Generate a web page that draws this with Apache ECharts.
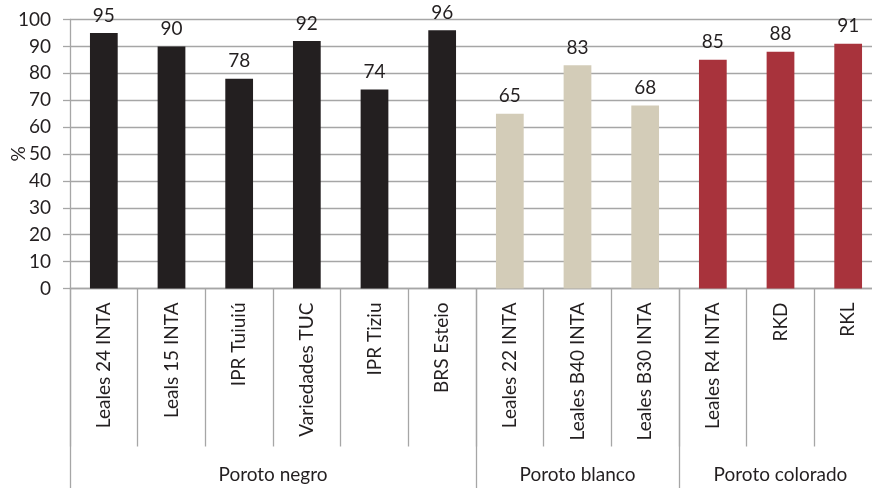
<!DOCTYPE html>
<html>
<head>
<meta charset="utf-8">
<script src="https://cdn.jsdelivr.net/npm/echarts@6/dist/echarts.min.js"></script>
<style>html,body{margin:0;padding:0;background:#fff;}#c{width:872px;height:488px;}</style>
</head>
<body>
<div id="c"></div>
<script>
const categories = ['Leales 24 INTA','Leals 15 INTA','IPR Tuiuiú','Variedades TUC','IPR Tiziu','BRS Esteio','Leales 22 INTA','Leales B40 INTA','Leales B30 INTA','Leales R4 INTA','RKD','RKL'];
const values = [95, 90, 78, 92, 74, 96, 65, 83, 68, 85, 88, 91];
const groupNames = ['Poroto negro', 'Poroto blanco', 'Poroto colorado'];
const groupSizes = [6, 3, 3];
const groupColors = ['#231f20', '#d3ccb8', '#a8333c'];
const yTicks = [0, 10, 20, 30, 40, 50, 60, 70, 80, 90, 100];

// derived: group index per category, group boundaries and centers
const groupOf = [];
groupSizes.forEach((n, g) => { for (let i = 0; i < n; i++) groupOf.push(g); });
const bounds = [0];
groupSizes.forEach(n => bounds.push(bounds[bounds.length - 1] + n));
const centers = groupSizes.map((n, g) => bounds[g] + n / 2);

const FONT = 'Lato';
const TXT = '#231f20';
const GRAY = '#a6a6a6';

const chart = echarts.init(document.getElementById('c'), null, {renderer: 'canvas'});
chart.setOption({
  animation: false,
  backgroundColor: '#fff',
  grid: {left: 70, right: -10, top: 19.5, bottom: 199.5, containLabel: false, outerBoundsMode: 'none'},
  xAxis: [
    {
      type: 'category',
      data: categories,
      boundaryGap: true,
      axisLine: {show: true, lineStyle: {color: GRAY, width: 1.3}},
      axisTick: {show: true, length: 158, lineStyle: {color: GRAY, width: 1.3}},
      axisLabel: {rotate: 90, margin: 14, fontFamily: FONT, fontSize: 19, color: TXT, interval: 0}
    },
    {
      type: 'value',
      min: 0, max: bounds[bounds.length - 1],
      position: 'bottom',
      axisLine: {show: false},
      splitLine: {show: false},
      axisTick: {show: true, length: 210, customValues: bounds, lineStyle: {color: GRAY, width: 1.3}},
      axisLabel: {
        show: true, margin: 177, customValues: centers,
        fontFamily: FONT, fontSize: 19, color: TXT,
        formatter: v => groupNames[centers.indexOf(v)]
      }
    }
  ],
  yAxis: {
    type: 'value', min: 0, max: 100, interval: 10,
    name: '%', nameLocation: 'middle', nameGap: 42, nameMoveOverlap: false,
    nameTextStyle: {fontFamily: FONT, fontSize: 19, color: TXT},
    axisLine: {show: true, lineStyle: {color: GRAY, width: 1.3}},
    axisTick: {show: true, length: 7, lineStyle: {color: GRAY, width: 1.3}},
    splitLine: {show: true, lineStyle: {color: GRAY, width: 1.3}},
    axisLabel: {margin: 19, fontFamily: FONT, fontSize: 19, color: TXT,
      formatter: v => yTicks.includes(v) ? String(v) : ''}
  },
  series: [{
    type: 'bar',
    xAxisIndex: 0,
    barWidth: '41%',
    data: values.map((v, i) => ({value: v, itemStyle: {color: groupColors[groupOf[i]]}})),
    label: {show: true, position: 'top', distance: 8, fontFamily: FONT, fontSize: 19, color: TXT}
  }]
});
</script>
</body>
</html>
